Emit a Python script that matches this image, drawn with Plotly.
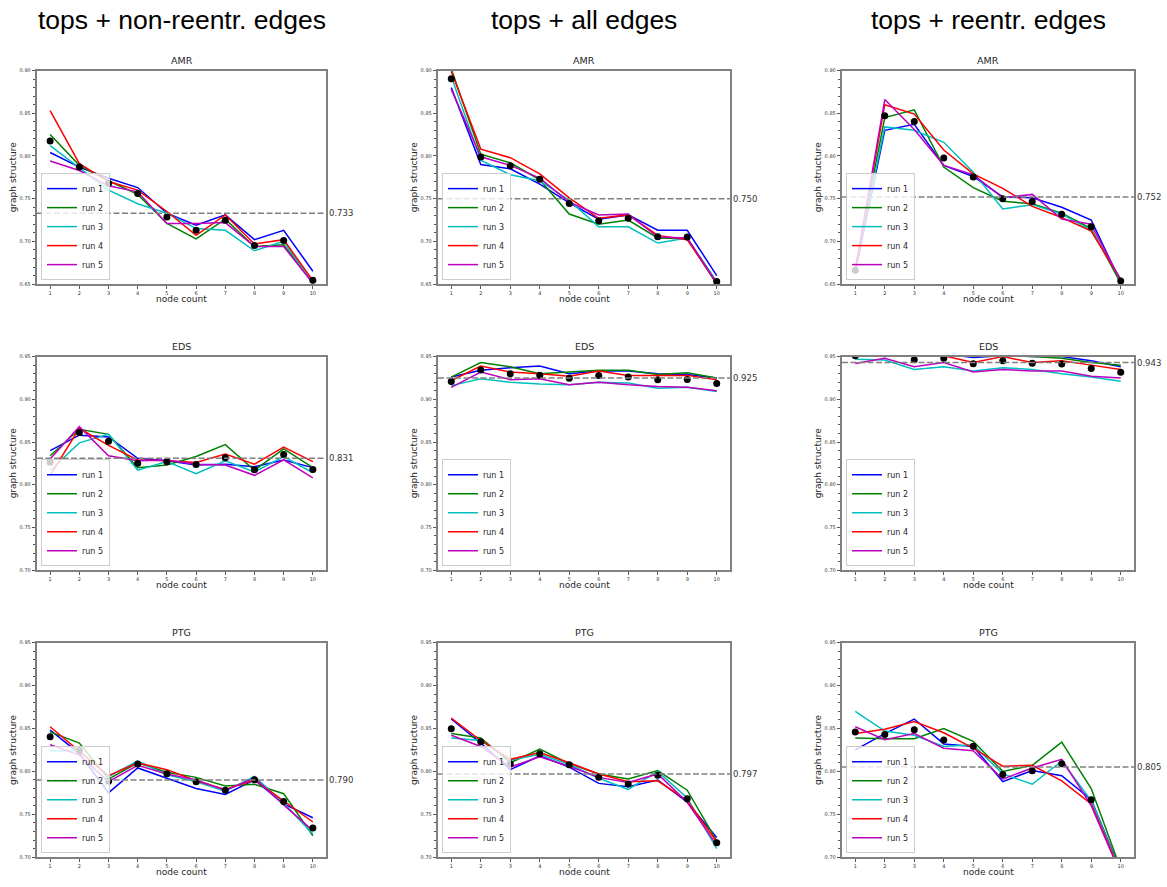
import plotly.graph_objects as go
import numpy as np

# ---------------- data ----------------
node_count = [1, 2, 3, 4, 5, 6, 7, 8, 9, 10]
run_names = ["run 1", "run 2", "run 3", "run 4", "run 5"]
column_titles = ["tops + non-reentr. edges", "tops + all edges", "tops + reentr. edges"]
row_titles = ["AMR", "EDS", "PTG"]

# AMR
amr_nonreentr = [
    [0.804, 0.787, 0.774, 0.763, 0.733, 0.719, 0.731, 0.702, 0.713, 0.665],
    [0.825, 0.789, 0.771, 0.755, 0.721, 0.703, 0.726, 0.694, 0.696, 0.652],
    [0.812, 0.786, 0.760, 0.744, 0.733, 0.715, 0.713, 0.689, 0.700, 0.651],
    [0.853, 0.791, 0.770, 0.760, 0.735, 0.707, 0.731, 0.697, 0.702, 0.654],
    [0.794, 0.783, 0.765, 0.758, 0.721, 0.721, 0.722, 0.694, 0.694, 0.651],
]
amr_all = [
    [0.880, 0.790, 0.785, 0.767, 0.745, 0.726, 0.731, 0.713, 0.713, 0.660],
    [0.902, 0.802, 0.792, 0.772, 0.732, 0.720, 0.725, 0.704, 0.703, 0.650],
    [0.893, 0.795, 0.778, 0.771, 0.748, 0.717, 0.717, 0.698, 0.704, 0.653],
    [0.899, 0.808, 0.798, 0.779, 0.751, 0.727, 0.731, 0.707, 0.702, 0.651],
    [0.878, 0.799, 0.789, 0.774, 0.746, 0.731, 0.732, 0.705, 0.704, 0.651],
]
amr_reentr = [
    [0.664, 0.830, 0.837, 0.789, 0.776, 0.752, 0.751, 0.740, 0.725, 0.652],
    [0.668, 0.845, 0.854, 0.787, 0.763, 0.747, 0.744, 0.733, 0.715, 0.651],
    [0.667, 0.834, 0.830, 0.816, 0.781, 0.738, 0.743, 0.732, 0.713, 0.656],
    [0.665, 0.860, 0.849, 0.807, 0.779, 0.762, 0.741, 0.728, 0.712, 0.655],
    [0.667, 0.866, 0.831, 0.789, 0.778, 0.751, 0.755, 0.726, 0.720, 0.654],
]
# EDS
eds_nonreentr = [
    [0.840, 0.858, 0.856, 0.831, 0.828, 0.823, 0.824, 0.821, 0.829, 0.820],
    [0.834, 0.865, 0.859, 0.820, 0.823, 0.833, 0.847, 0.817, 0.842, 0.820],
    [0.817, 0.849, 0.859, 0.817, 0.827, 0.813, 0.828, 0.815, 0.833, 0.814],
    [0.811, 0.866, 0.846, 0.829, 0.828, 0.826, 0.836, 0.824, 0.844, 0.827],
    [0.830, 0.868, 0.834, 0.828, 0.829, 0.824, 0.823, 0.811, 0.829, 0.808],
]
eds_all = [
    [0.926, 0.934, 0.937, 0.939, 0.930, 0.933, 0.933, 0.930, 0.929, 0.925],
    [0.926, 0.943, 0.938, 0.930, 0.932, 0.934, 0.934, 0.929, 0.931, 0.925],
    [0.916, 0.924, 0.920, 0.918, 0.917, 0.920, 0.919, 0.913, 0.914, 0.909],
    [0.922, 0.939, 0.932, 0.930, 0.927, 0.933, 0.928, 0.928, 0.928, 0.923],
    [0.914, 0.932, 0.923, 0.924, 0.917, 0.920, 0.917, 0.915, 0.914, 0.910],
]
eds_reentr = [
    [0.953, 0.954, 0.951, 0.953, 0.949, 0.951, 0.950, 0.950, 0.945, 0.938],
    [0.955, 0.956, 0.953, 0.955, 0.951, 0.952, 0.950, 0.948, 0.943, 0.940],
    [0.947, 0.946, 0.935, 0.938, 0.933, 0.937, 0.935, 0.930, 0.926, 0.921],
    [0.958, 0.962, 0.955, 0.951, 0.943, 0.950, 0.943, 0.945, 0.940, 0.935],
    [0.942, 0.948, 0.938, 0.943, 0.932, 0.935, 0.933, 0.933, 0.927, 0.925],
]
# PTG
ptg_nonreentr = [
    [0.848, 0.821, 0.775, 0.804, 0.792, 0.780, 0.773, 0.790, 0.762, 0.746],
    [0.846, 0.833, 0.791, 0.810, 0.799, 0.793, 0.783, 0.785, 0.774, 0.725],
    [0.824, 0.824, 0.794, 0.812, 0.796, 0.788, 0.777, 0.794, 0.763, 0.727],
    [0.852, 0.824, 0.795, 0.810, 0.802, 0.789, 0.779, 0.790, 0.765, 0.741],
    [0.831, 0.819, 0.788, 0.807, 0.797, 0.790, 0.778, 0.792, 0.761, 0.731],
]
ptg_all = [
    [0.861, 0.833, 0.802, 0.818, 0.805, 0.786, 0.782, 0.790, 0.764, 0.723],
    [0.844, 0.839, 0.810, 0.826, 0.809, 0.797, 0.791, 0.801, 0.778, 0.719],
    [0.839, 0.836, 0.813, 0.820, 0.808, 0.792, 0.779, 0.800, 0.769, 0.710],
    [0.862, 0.836, 0.814, 0.822, 0.810, 0.797, 0.788, 0.789, 0.766, 0.718],
    [0.842, 0.829, 0.805, 0.817, 0.806, 0.793, 0.787, 0.797, 0.764, 0.714],
]
ptg_reentr = [
    [0.825, 0.844, 0.861, 0.832, 0.829, 0.788, 0.801, 0.795, 0.767, 0.684],
    [0.839, 0.838, 0.838, 0.850, 0.835, 0.800, 0.807, 0.834, 0.780, 0.686],
    [0.870, 0.847, 0.842, 0.829, 0.831, 0.797, 0.785, 0.812, 0.766, 0.683],
    [0.844, 0.849, 0.858, 0.845, 0.827, 0.806, 0.807, 0.789, 0.762, 0.682],
    [0.852, 0.837, 0.844, 0.827, 0.824, 0.791, 0.804, 0.814, 0.760, 0.680],
]

panels = [
    [amr_nonreentr, amr_all, amr_reentr],
    [eds_nonreentr, eds_all, eds_reentr],
    [ptg_nonreentr, ptg_all, ptg_reentr],
]
overall_means = [
    [0.733, 0.750, 0.752],
    [0.831, 0.925, 0.943],
    [0.790, 0.797, 0.805],
]
y_ranges = [[0.65, 0.90], [0.70, 0.95], [0.70, 0.95]]

run_colors = ["#0000ff", "#008000", "#00bfbf", "#ff0000", "#bf00bf"]

# ---------------- layout geometry ----------------
W, H = 1167, 887
col_px = [(37, 326), (438, 730), (842, 1134)]
row_px = [(68, 283), (356, 571), (644, 860)]

FONT = "DejaVu Sans"
SPINE = "#808080"

fig = go.Figure()
layout = dict(
    width=W, height=H,
    margin=dict(l=0, r=0, t=0, b=0),
    paper_bgcolor="white", plot_bgcolor="white",
    font=dict(family=FONT, color="#262626"),
    showlegend=True,
)
annotations = []
shapes = []

for r in range(3):
    for c in range(3):
        n = r * 3 + c + 1
        xa = "x" if n == 1 else f"x{n}"
        ya = "y" if n == 1 else f"y{n}"
        lg = "legend" if n == 1 else f"legend{n}"
        data = panels[r][c]
        x0, x1 = col_px[c][0] / W, col_px[c][1] / W
        y0, y1 = 1 - row_px[r][1] / H, 1 - row_px[r][0] / H

        for i, vals in enumerate(data):
            fig.add_trace(go.Scatter(
                x=node_count, y=vals, mode="lines", name=run_names[i],
                line=dict(color=run_colors[i], width=1.5),
                xaxis=xa, yaxis=ya, legend=lg,
            ))
        means = np.mean(np.array(data), axis=0)
        fig.add_trace(go.Scatter(
            x=node_count, y=means, mode="markers",
            marker=dict(color="black", size=7),
            xaxis=xa, yaxis=ya, showlegend=False,
        ))

        axkey_x = "xaxis" if n == 1 else f"xaxis{n}"
        axkey_y = "yaxis" if n == 1 else f"yaxis{n}"
        layout[axkey_x] = dict(
            domain=[x0, x1], anchor=ya, range=[0.55, 10.45],
            tickvals=node_count, ticks="outside", ticklen=3, tickwidth=1,
            tickcolor="#555", tickfont=dict(size=5, color="#333"),
            showline=True, mirror=True, linecolor=SPINE, linewidth=1.5,
            showgrid=False, zeroline=False,
        )
        layout[axkey_y] = dict(
            domain=[y0, y1], anchor=xa, range=y_ranges[r],
            tick0=y_ranges[r][0], dtick=0.05, tickformat=".2f",
            ticks="outside", ticklen=3.5, tickwidth=1, tickcolor="#555",
            tickfont=dict(size=5, color="#333"),
            minor=dict(dtick=0.01, ticks="outside", ticklen=2, tickcolor="#555", tickwidth=0.8),
            showline=True, mirror=True, linecolor=SPINE, linewidth=1.5,
            showgrid=False, zeroline=False,
        )
        layout[lg] = dict(
            x=x0 + 4 / W, y=y0 + 4 / H, xanchor="left", yanchor="bottom",
            xref="paper", yref="paper",
            bgcolor="rgba(255,255,255,0.8)", bordercolor="#cccccc", borderwidth=1,
            font=dict(family=FONT, size=8, color="#262626"),
            itemwidth=30, tracegroupgap=0,
        )

        # mean dashed line + label
        shapes.append(dict(
            type="line", xref=f"{xa} domain", yref=ya, x0=0, x1=1,
            y0=overall_means[r][c], y1=overall_means[r][c],
            line=dict(color="#808080", width=1.5, dash="6px,2.5px"),
        ))
        annotations.append(dict(
            xref=f"{xa} domain", yref=ya, x=1, y=overall_means[r][c],
            text=f"{overall_means[r][c]:.3f}", showarrow=False,
            xanchor="left", yanchor="middle", xshift=1,
            font=dict(family=FONT, size=8.5, color="#333"),
        ))
        # subplot title
        annotations.append(dict(
            xref="paper", yref="paper", x=(x0 + x1) / 2, y=y1 + 10 / H,
            text=row_titles[r], showarrow=False, xanchor="center", yanchor="middle",
            font=dict(family=FONT, size=9.5, color="#262626"),
        ))
        # axis labels
        annotations.append(dict(
            xref="paper", yref="paper", x=x0 - 24 / W, y=(y0 + y1) / 2,
            text="graph structure", showarrow=False, textangle=-90,
            xanchor="center", yanchor="middle",
            font=dict(family=FONT, size=9, color="#262626"),
        ))
        annotations.append(dict(
            xref="paper", yref="paper", x=(x0 + x1) / 2, y=y0 - 15 / H,
            text="node count", showarrow=False, xanchor="center", yanchor="middle",
            font=dict(family=FONT, size=9, color="#262626"),
        ))

for c in range(3):
    annotations.append(dict(
        xref="paper", yref="paper",
        x=(col_px[c][0] + col_px[c][1]) / 2 / W, y=1 - 17 / H,
        text=column_titles[c], showarrow=False, xanchor="center", yanchor="middle",
        font=dict(family="Liberation Sans", size=26.5, color="black"),
    ))

layout["annotations"] = annotations
layout["shapes"] = shapes
fig.update_layout(**layout)
fig.write_html(
    "out.html",
    config={"displayModeBar": False},
    post_script="document.body.style.margin='0';document.body.style.padding='0';",
)
